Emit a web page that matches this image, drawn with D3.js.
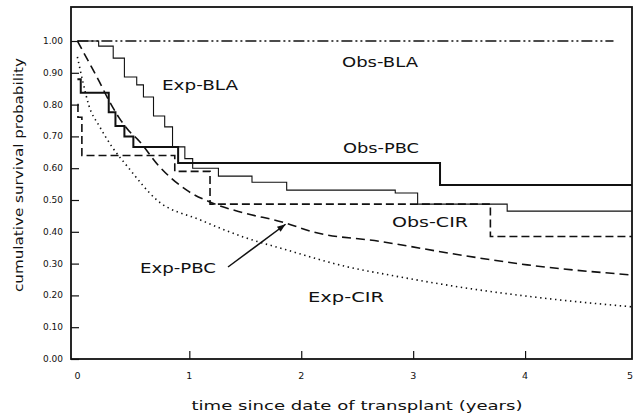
<!DOCTYPE html>
<html>
<head>
<meta charset="utf-8">
<script src="https://cdn.jsdelivr.net/npm/d3@7"></script>
<style>
  html, body { margin: 0; padding: 0; background: #fff; }
  svg { display: block; }
  text { font-family: "DejaVu Sans", sans-serif; fill: #111; }
</style>
</head>
<body>
<svg id="chart" width="636" height="417"></svg>
<script>
// Survival after transplant: observed (Kaplan-Meier) vs expected curves
const yTicks = [0, 0.1, 0.2, 0.3, 0.4, 0.5, 0.6, 0.7, 0.8, 0.9, 1.0];
const xTicks = [0, 1, 2, 3, 4, 5];

const obsBlaT = [0, 4.79];
const obsBlaS = [1.0, 1.0];

const expBlaT = [0, 0.19, 0.32, 0.42, 0.53, 0.59, 0.68, 0.78, 0.85, 0.96, 1.03, 1.26, 1.56, 1.87, 2.84, 3.04, 3.84, 4.96];
const expBlaS = [1.0, 0.984, 0.946, 0.887, 0.862, 0.824, 0.764, 0.73, 0.667, 0.63, 0.60, 0.575, 0.556, 0.531, 0.522, 0.487, 0.465, 0.465];

const obsPbcT = [0, 0.03, 0.28, 0.34, 0.42, 0.50, 0.90, 3.24, 4.96];
const obsPbcS = [0.88, 0.837, 0.776, 0.733, 0.70, 0.667, 0.616, 0.547, 0.547];

const obsCirT = [0, 0.005, 0.04, 0.87, 1.185, 3.69, 4.96];
const obsCirS = [0.80, 0.76, 0.64, 0.59, 0.487, 0.385, 0.385];

const expPbcT = [0, 0.1, 0.19, 0.28, 0.37, 0.48, 0.54, 0.72, 0.98, 1.21, 1.48, 1.84, 2.1, 2.7, 3.42, 4.02, 4.96];
const expPbcS = [1.0, 0.935, 0.876, 0.814, 0.76, 0.71, 0.69, 0.61, 0.53, 0.49, 0.46, 0.43, 0.40, 0.37, 0.327, 0.296, 0.264];

const expCirT = [0, 0.05, 0.1, 0.2, 0.31, 0.45, 0.71, 1.1, 1.48, 1.87, 2.41, 2.79, 3.42, 4.2, 4.96];
const expCirS = [0.95, 0.87, 0.80, 0.73, 0.667, 0.604, 0.50, 0.437, 0.384, 0.343, 0.29, 0.264, 0.226, 0.19, 0.164];

const svg = d3.select("#chart");

// plot frame (pixels)
const box = { left: 71, right: 632, top: 7, bottom: 359 };

const x = d3.scaleLinear().domain([0, 5]).range([77.4, 637]);
const y = d3.scaleLinear().domain([0, 1]).range([359, 41]);

svg.append("defs").append("clipPath").attr("id", "plotclip")
  .append("rect")
  .attr("x", box.left).attr("y", box.top)
  .attr("width", box.right - box.left).attr("height", box.bottom - box.top);

const zip = (t, s) => t.map((d, i) => [d, s[i]]);
const stepLine = d3.line().x(d => x(d[0])).y(d => y(d[1])).curve(d3.curveStepAfter);
const smoothLine = d3.line().x(d => x(d[0])).y(d => y(d[1])).curve(d3.curveMonotoneX);

const curves = svg.append("g").attr("clip-path", "url(#plotclip)");

function draw(data, gen, width, dash) {
  curves.append("path")
    .attr("d", gen(data))
    .attr("fill", "none")
    .attr("stroke", "#111")
    .attr("stroke-width", width)
    .attr("stroke-dasharray", dash)
    .attr("stroke-linejoin", "miter");
}

draw(zip(expCirT, expCirS), smoothLine, 1.6, "1.4,3.6");
draw(zip(expPbcT, expPbcS), smoothLine, 1.6, "9,5");
draw(zip(obsCirT, obsCirS), stepLine, 1.6, "8,4");
draw(zip(expBlaT, expBlaS), stepLine, 1.1, null);
draw(zip(obsPbcT, obsPbcS), stepLine, 2, null);
draw(zip(obsBlaT, obsBlaS), stepLine, 1.6, "11,3,2,3,2,3");

// frame
svg.append("rect")
  .attr("x", box.left).attr("y", box.top)
  .attr("width", box.right - box.left).attr("height", box.bottom - box.top)
  .attr("fill", "none").attr("stroke", "#111").attr("stroke-width", 1.8);

// y axis: inward ticks on the left frame
const yAxis = d3.axisRight(y).tickValues(yTicks).tickSize(8).tickFormat("");
const gy = svg.append("g").attr("transform", `translate(${box.left},0)`).call(yAxis);
gy.select(".domain").remove();
gy.selectAll("line").attr("stroke", "#111").attr("stroke-width", 1.2);

svg.append("g").selectAll("text").data(yTicks).join("text")
  .attr("x", 63).attr("y", d => y(d) + 3)
  .attr("text-anchor", "end")
  .attr("font-size", 9)
  .attr("textLength", 20).attr("lengthAdjust", "spacingAndGlyphs")
  .text(d => d3.format(".2f")(d));

// x axis: inward ticks on the bottom frame
const xAxis = d3.axisTop(x).tickValues(xTicks.slice(1, 5)).tickSize(8).tickFormat("");
const gx = svg.append("g").attr("transform", `translate(0,${box.bottom})`).call(xAxis);
gx.select(".domain").remove();
gx.selectAll("line").attr("stroke", "#111").attr("stroke-width", 1.2);

// last label sits at the window edge, so keep it inside
svg.append("g").selectAll("text").data(xTicks).join("text")
  .attr("x", d => Math.min(x(d), 630)).attr("y", 379)
  .attr("text-anchor", "middle")
  .attr("font-size", 9.5)
  .text(d => d);

// axis titles
svg.append("text")
  .attr("x", 357).attr("y", 410)
  .attr("text-anchor", "middle")
  .attr("font-size", 13)
  .attr("textLength", 331).attr("lengthAdjust", "spacingAndGlyphs")
  .text("time since date of transplant (years)");

svg.append("text")
  .attr("transform", "translate(23,175) rotate(-90)")
  .attr("text-anchor", "middle")
  .attr("font-size", 13)
  .attr("textLength", 234).attr("lengthAdjust", "spacingAndGlyphs")
  .text("cumulative survival probability");

// curve labels
const labels = [
  { text: "Obs-BLA", x: 342, y: 67 },
  { text: "Exp-BLA", x: 162, y: 90 },
  { text: "Obs-PBC", x: 343, y: 153 },
  { text: "Obs-CIR", x: 392, y: 227 },
  { text: "Exp-PBC", x: 140, y: 273 },
  { text: "Exp-CIR", x: 308, y: 302 }
];
svg.append("g").selectAll("text").data(labels).join("text")
  .attr("x", d => d.x).attr("y", d => d.y)
  .attr("font-size", 14)
  .attr("textLength", 76).attr("lengthAdjust", "spacingAndGlyphs")
  .text(d => d.text);

// arrow pointing from the Exp-PBC label to its curve
const ax0 = 228, ay0 = 267, ax1 = x(1.86), ay1 = y(expPbcS[11]) + 2;
svg.append("line")
  .attr("x1", ax0).attr("y1", ay0).attr("x2", ax1).attr("y2", ay1)
  .attr("stroke", "#111").attr("stroke-width", 1.5);
const ang = Math.atan2(ay1 - ay0, ax1 - ax0);
const hl = 9, hw = 0.35;
svg.append("path")
  .attr("d", `M${ax1},${ay1} L${ax1 - hl * Math.cos(ang - hw)},${ay1 - hl * Math.sin(ang - hw)} L${ax1 - hl * Math.cos(ang + hw)},${ay1 - hl * Math.sin(ang + hw)} Z`)
  .attr("fill", "#111");
</script>
</body>
</html>
